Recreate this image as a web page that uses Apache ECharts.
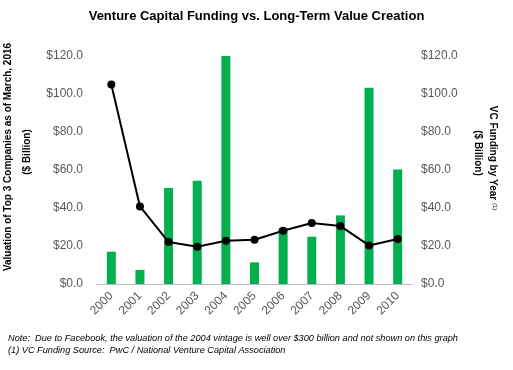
<!DOCTYPE html>
<html><head><meta charset="utf-8">
<script src="https://cdn.jsdelivr.net/npm/echarts@6/dist/echarts.min.js"></script>
<style>html,body{margin:0;padding:0;background:#fff}#c{width:513px;height:370px}</style>
</head><body><div id="c"></div>
<script>
const years = ['2000','2001','2002','2003','2004','2005','2006','2007','2008','2009','2010'];
const valuation = [17.0, 7.4, 50.5, 54.4, 120.0, 11.4, 29.5, 24.9, 36.1, 103.3, 60.3];
const vcFunding = [105.0, 40.8, 22.1, 19.6, 22.8, 23.3, 28.0, 32.1, 30.5, 20.3, 23.7];
const yTicks = [0, 20, 40, 60, 80, 100, 120];

const font = 'Liberation Sans, Arial, sans-serif';
const chart = echarts.init(document.getElementById('c'));
const fmt = v => '$' + v.toFixed(1);
chart.setOption({
  animation: false,
  title: {text: 'Venture Capital Funding vs. Long-Term Value Creation', left: 'center', top: 5,
    textStyle: {fontFamily: font, fontSize: 13, fontWeight: 'bold', color: '#000'}},
  grid: {left: 97, right: 101, top: 56, bottom: 86},
  xAxis: {type: 'category', data: years,
    axisLine: {lineStyle: {color: '#bfbfbf'}},
    axisTick: {lineStyle: {color: '#bfbfbf'}, length: 5},
    axisLabel: {rotate: 45, fontFamily: font, fontSize: 12, color: '#595959', margin: 10}},
  yAxis: [
    {type: 'value', min: yTicks[0], max: yTicks[yTicks.length-1], interval: 20,
     splitLine: {show: false}, axisLine: {show: false}, axisTick: {show: false},
     axisLabel: {formatter: fmt, fontFamily: font, fontSize: 12, color: '#595959', margin: 14}},
    {type: 'value', min: yTicks[0], max: yTicks[yTicks.length-1], interval: 20,
     splitLine: {show: false}, axisLine: {show: false}, axisTick: {show: false},
     axisLabel: {formatter: fmt, fontFamily: font, fontSize: 12, color: '#595959', margin: 9}}
  ],
  series: [
    {type: 'bar', data: valuation, yAxisIndex: 0, barWidth: 9,
     itemStyle: {color: '#00b050'}},
    {type: 'line', data: vcFunding, yAxisIndex: 1, symbol: 'circle', symbolSize: 8,
     lineStyle: {color: '#000', width: 2}, itemStyle: {color: '#000'}}
  ],
  graphic: [
    {type: 'text', x: 8, y: 157, rotation: Math.PI/2,
     style: {text: 'Valuation of Top 3 Companies as of March, 2016', font: 'bold 10px ' + font, fill: '#000', textAlign: 'center', textVerticalAlign: 'middle'}},
    {type: 'text', x: 27, y: 152, rotation: Math.PI/2,
     style: {text: '($ Billion)', font: 'bold 10px ' + font, fill: '#000', textAlign: 'center', textVerticalAlign: 'middle'}},
    {type: 'text', x: 493, y: 158, rotation: -Math.PI/2,
     style: {text: 'VC Funding by Year {s|(1)}', font: 'bold 10px ' + font, fill: '#000', textAlign: 'center', textVerticalAlign: 'middle',
       rich: {s: {font: '6px ' + font, fill: '#000', verticalAlign: 'top'}}}},
    {type: 'text', x: 478, y: 153, rotation: -Math.PI/2,
     style: {text: '($ Billion)', font: 'bold 10px ' + font, fill: '#000', textAlign: 'center', textVerticalAlign: 'middle'}},
    {type: 'text', x: 8, y: 338,
     style: {text: 'Note:  Due to Facebook, the valuation of the 2004 vintage is well over $300 billion and not shown on this graph', font: 'italic 9.2px ' + font, fill: '#000', textVerticalAlign: 'middle'}},
    {type: 'text', x: 8, y: 350,
     style: {text: '(1) VC Funding Source:  PwC / National Venture Capital Association', font: 'italic 9.2px ' + font, fill: '#000', textVerticalAlign: 'middle'}}
  ]
});
</script></body></html>
